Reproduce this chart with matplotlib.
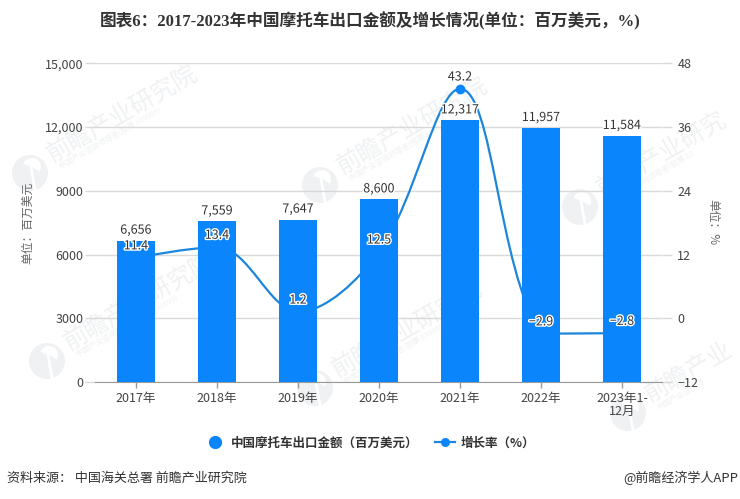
import matplotlib
matplotlib.use('Agg')
import matplotlib.pyplot as plt
import matplotlib.patheffects as pe
from matplotlib.lines import Line2D
from matplotlib.patches import Circle, PathPatch, Wedge
from matplotlib.path import Path
import numpy as np

plt.rcParams['font.family'] = ['Noto Sans CJK SC', 'DejaVu Sans']

# data
categories = ['2017年', '2018年', '2019年', '2020年', '2021年', '2022年', '2023年1-\n12月']
export_value = [6656, 7559, 7647, 8600, 12317, 11957, 11584]
growth_rate = [11.4, 13.4, 1.2, 12.5, 43.2, -2.9, -2.8]
left_ticks = [0, 3000, 6000, 9000, 12000, 15000]
left_tick_labels = ['0', '3000', '6000', '9000', '12,000', '15,000']
right_ticks = [-12, 0, 12, 24, 36, 48]

W, H = 740, 499
BLUE = '#0a85fb'
LINE = '#1c86dc'
TICK_GREY = '#d9d9d9'
TEXT = '#444444'
MARK = '#eff1f3'

fig = plt.figure(figsize=(W / 100, H / 100), dpi=100)


def px_axes(x0, y0, x1, y1):
    # y is counted from the top, like in the picture
    return [x0 / W, 1 - y1 / H, (x1 - x0) / W, (y1 - y0) / H]


# background layer for the watermark
bg = fig.add_axes([0, 0, 1, 1], zorder=0)
bg.set_xlim(0, W)
bg.set_ylim(H, 0)
bg.axis('off')


def watermark(x, y, name='前瞻产业研究院', sub='中国产业咨询领导者(股票 839599)'):
    bg.add_patch(Circle((x, y), 18, color=MARK, lw=0))
    bg.add_patch(Wedge((x + 2, y - 6), 9, 200, 30, color='white', lw=0))
    bg.add_patch(Wedge((x + 1, y + 6), 5, 0, 360, color=MARK, lw=0))
    bg.plot([x + 1, x + 5], [y - 6, y + 17], color='white', lw=2)
    bg.text(x + 19, y - 16, name, fontsize=17.5, color=MARK, rotation=30,
            rotation_mode='anchor', ha='left', va='center')
    bg.text(x + 30, y - 5, sub, fontsize=5.5, color=MARK,
            rotation=30, rotation_mode='anchor', ha='left', va='center')


watermark(30, 173)
watermark(320, 185)
watermark(47, 361)
watermark(315, 388)
# these two run into the right edge of the picture
watermark(580, 207, name='前瞻产业研究', sub='中国产业咨询领导者(股票 83')
watermark(628, 413, name='前瞻产业', sub='中国产业咨询领')

# line axes sits under the bars, the line only shows between them
ax2 = fig.add_axes(px_axes(95.5, 63.3, 662.5, 382), zorder=1)
ax1 = fig.add_axes(px_axes(95.5, 63.3, 662.5, 382), zorder=2)
ax2.patch.set_visible(False)
ax1.patch.set_visible(False)

x = np.arange(len(categories))
ax1.bar(x, export_value, width=38 / 81, color=BLUE, zorder=3)
ax1.set_xlim(-0.5, len(categories) - 0.5)
ax1.set_ylim(0, 15000)
ax2.set_xlim(-0.5, len(categories) - 0.5)
ax2.set_ylim(-12, 48)


def smooth_path(ax, xs, ys, smooth=0.35):
    # same idea as the echarts smooth line, worked out in pixels
    pts = ax.transData.transform(np.column_stack([xs, ys]))
    n = len(pts)
    verts = [pts[0]]
    codes = [Path.MOVETO]
    cp = pts[0]
    for i in range(n - 1):
        p = pts[i + 1]
        prev = pts[i]
        nxt = pts[min(i + 2, n - 1)]
        v = (nxt - prev) * smooth
        d0 = np.hypot(*(p - prev))
        d1 = np.hypot(*(nxt - p))
        ratio = d1 / (d0 + d1) if d0 + d1 else 0.5
        cp0 = p - v * (1 - ratio)
        cp0 = np.clip(cp0, np.minimum(prev, p), np.maximum(prev, p))
        verts += [cp, cp0, p]
        codes += [Path.CURVE4] * 3
        vv = p - cp0
        cp = p + vv * (d1 / d0 if d0 else 1)
        cp = np.clip(cp, np.minimum(p, nxt), np.maximum(p, nxt))
    return Path(ax.transData.inverted().transform(np.array(verts)), codes)


ax2.add_patch(PathPatch(smooth_path(ax2, x, growth_rate), fc='none', ec=LINE, lw=1.6, zorder=3))
ax2.plot(x, growth_rate, ls='none', marker='o', ms=6, color=BLUE, zorder=4)

# grid and axes
ax2.set_yticks(right_ticks)
ax2.grid(axis='y', color=TICK_GREY, lw=1)
ax2.set_axisbelow(True)
ax2.yaxis.tick_right()
ax2.tick_params(axis='y', length=7.2, width=1, color=TICK_GREY, labelcolor=TEXT, labelsize=9, pad=3.5)
ax2.set_xticks([])
for s in ax2.spines.values():
    s.set_visible(False)

ax1.set_yticks(left_ticks)
ax1.set_yticklabels(left_tick_labels)
ax1.tick_params(axis='y', length=7.2, width=1, color=TICK_GREY, labelcolor=TEXT, labelsize=9, pad=1.5)
ax1.set_xticks(x)
ax1.set_xticklabels(categories, linespacing=1.05)
ax1.tick_params(axis='x', length=4, width=1, color='#999999', labelcolor=TEXT, labelsize=9, pad=3)
for s in ['top', 'left', 'right']:
    ax1.spines[s].set_visible(False)
ax1.spines['bottom'].set_color('#999999')

# value labels
halo = [pe.withStroke(linewidth=2, foreground='white')]
for i, v in enumerate(export_value):
    ax1.annotate(f'{v:,}', (i, v), xytext=(0, 7.5), textcoords='offset points', ha='center',
                 va='center', fontsize=9, color='#333333', path_effects=halo)
for i, v in enumerate(growth_rate):
    label = f'{v}'.replace('-', '−')
    ax1.annotate(label, (i, v), xycoords=ax2.transData, xytext=(0, 8.5), textcoords='offset points',
                 ha='center', va='center', fontsize=9, color='#333333', path_effects=halo)

# titles
fig.text(370 / W, 1 - 21 / H, '图表6：2017-2023年中国摩托车出口金额及增长情况(单位：百万美元，%)',
         ha='center', va='center', fontsize=12, fontweight='bold', color='#333333',
         family=['Liberation Serif', 'Noto Sans CJK SC'])
fig.text(28 / W, 1 - 223 / H, '单位：百万美元', rotation=90, ha='center', va='center', fontsize=8.5, color='#666666')
fig.text(713 / W, 1 - 222 / H, '单位：%', rotation=-90, ha='center', va='center', fontsize=8.5, color='#666666')

# legend
handles = [
    Line2D([], [], ls='none', marker='o', ms=8.5, color=BLUE),
    Line2D([], [], color=LINE, lw=1.6, marker='o', ms=5.5, mfc=BLUE, mec=BLUE),
]
fig.legend(handles, ['中国摩托车出口金额（百万美元）', '增长率（%）'], loc='center',
           bbox_to_anchor=(370 / W, 1 - 443 / H), ncol=2, frameon=False,
           labelcolor='#333333', handlelength=1.6, handletextpad=0.45, columnspacing=1.3,
           prop={'size': 9, 'weight': 'bold'})

# footer
fig.text(7 / W, 1 - 478 / H, '资料来源： 中国海关总署 前瞻产业研究院', ha='left', va='center', fontsize=9.4, color='#333333')
fig.text(738 / W, 1 - 478 / H, '@前瞻经济学人APP', ha='right', va='center', fontsize=9.4, color='#333333')

fig.savefig('out.png', dpi=100)
